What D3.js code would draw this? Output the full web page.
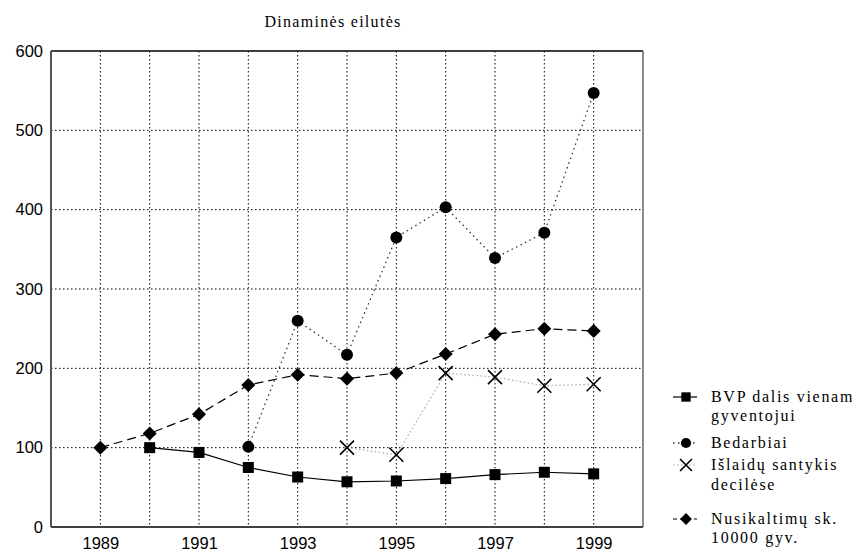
<!DOCTYPE html>
<html><head><meta charset="utf-8">
<script src="https://cdn.jsdelivr.net/npm/d3@7"></script>
<style>body{margin:0;background:#fff}svg{display:block}</style>
</head><body>
<script>
const years = [1989,1990,1991,1992,1993,1994,1995,1996,1997,1998,1999];
const bvp = [null,100,94,75,63,57,58,61,66,69,67];
const bedarbiai = [null,null,null,101,260,217,365,403,339,371,547];
const islaidu = [null,null,null,null,null,100,91,194,189,178,180];
const nusikaltimu = [100,118,142,179,192,187,194,218,243,250,247];
const yTicks = [0,100,200,300,400,500,600];
const xTickYears = [1989,1991,1993,1995,1997,1999];
const title = "Dinaminės eilutės";
const legendLabels = [["BVP dalis vienam","gyventojui"],["Bedarbiai"],["Išlaidų santykis","decilėse"],["Nusikaltimų sk.","10000 gyv."]];

const W=856,H=556;
const svg=d3.select("body").append("svg").attr("width",W).attr("height",H);
const L=51,R=643,T=51,B=527;
const x=d3.scaleLinear().domain([1988,2000]).range([L,R]);
const y=d3.scaleLinear().domain([0,600]).range([B,T]);

// grid
const g=svg.append("g");
d3.range(1989,2000).forEach(yr=>{
  g.append("line").attr("x1",x(yr)).attr("x2",x(yr)).attr("y1",T).attr("y2",B)
   .attr("stroke","#000").attr("stroke-width",1).attr("stroke-dasharray","1.5,2.5");
});
yTicks.filter(v=>v>0&&v<600).forEach(v=>{
  g.append("line").attr("x1",L).attr("x2",R).attr("y1",y(v)).attr("y2",y(v))
   .attr("stroke","#000").attr("stroke-width",1).attr("stroke-dasharray","1.5,2.5");
});
// frame
svg.append("line").attr("x1",L).attr("x2",R).attr("y1",T).attr("y2",T).attr("stroke","#000").attr("stroke-width",1.5);
svg.append("line").attr("x1",L).attr("x2",R).attr("y1",B).attr("y2",B).attr("stroke","#000").attr("stroke-width",1.5);
svg.append("line").attr("x1",L).attr("x2",L).attr("y1",T).attr("y2",B).attr("stroke","#555").attr("stroke-width",2);
svg.append("line").attr("x1",R).attr("x2",R).attr("y1",T).attr("y2",B).attr("stroke","#666").attr("stroke-width",1.5);

// axes labels via d3 axes
const yAxis=d3.axisLeft(y).tickValues(yTicks).tickSize(0).tickPadding(8);
const ya=svg.append("g").attr("transform",`translate(${L},0)`).call(yAxis);
ya.select(".domain").remove();
ya.selectAll("text").attr("font-family","Liberation Sans, Arial, sans-serif").attr("font-size",16.5).attr("fill","#000");
const xAxis=d3.axisBottom(x).tickValues(xTickYears).tickFormat(d3.format("d")).tickSize(0).tickPadding(10);
const xa=svg.append("g").attr("transform",`translate(0,${B})`).call(xAxis);
xa.select(".domain").remove();
xa.selectAll("text").attr("font-family","Liberation Sans, Arial, sans-serif").attr("font-size",16.5).attr("fill","#000");

// title
svg.append("text").attr("x",333).attr("y",27).attr("text-anchor","middle")
  .attr("font-family","Liberation Serif, Times New Roman, serif").attr("font-size",16)
  .attr("letter-spacing",1.3).text(title);

function pts(arr){return years.map((yr,i)=>({yr,v:arr[i]})).filter(d=>d.v!=null);}
const line=d3.line().x(d=>x(d.yr)).y(d=>y(d.v));

const series=[
 {data:bvp,stroke:"#000",dash:null,w:1.2,marker:"square"},
 {data:bedarbiai,stroke:"#333",dash:"1.5,3.5",w:1.3,marker:"circle"},
 {data:islaidu,stroke:"#aaa",dash:"1.5,2.5",w:1.2,marker:"x"},
 {data:nusikaltimu,stroke:"#000",dash:"9,5",w:1.2,marker:"diamond"}
];
function marker(sel,type,cx,cy,s){
  if(type==="square") sel.append("rect").attr("x",cx-5.5*s).attr("y",cy-5.5*s).attr("width",11*s).attr("height",11*s).attr("fill","#000");
  else if(type==="circle") sel.append("circle").attr("cx",cx).attr("cy",cy).attr("r",6*s).attr("fill","#000");
  else if(type==="diamond") sel.append("path").attr("d",`M${cx},${cy-7*s}L${cx+7*s},${cy}L${cx},${cy+7*s}L${cx-7*s},${cy}Z`).attr("fill","#000");
  else if(type==="x"){const r=7*s;sel.append("path").attr("d",`M${cx-r},${cy-r}L${cx+r},${cy+r}M${cx-r},${cy+r}L${cx+r},${cy-r}`).attr("stroke","#000").attr("stroke-width",1.6).attr("fill","none");}
}
series.forEach(s=>{
  const p=pts(s.data);
  svg.append("path").attr("d",line(p)).attr("fill","none").attr("stroke",s.stroke)
    .attr("stroke-width",s.w).attr("stroke-dasharray",s.dash);
});
series.forEach(s=>{
  const gm=svg.append("g");
  pts(s.data).forEach(d=>marker(gm,s.marker,x(d.yr),y(d.v),1));
});

// legend
const legY=[[397,416],[443],[465,485],[519,538]];
const lx0=673,lx1=697,lmx=686,tx=711;
series.forEach((s,i)=>{
  const yy=legY[i][0];
  svg.append("line").attr("x1",lx0).attr("x2",lx1).attr("y1",yy).attr("y2",yy)
    .attr("stroke",s.stroke).attr("stroke-width",s.w).attr("stroke-dasharray",s.dash? (s.marker==="diamond"?"4,3":s.dash):null);
  marker(svg,s.marker,lmx,yy,0.85);
  legendLabels[i].forEach((t,j)=>{
    svg.append("text").attr("x",tx).attr("y",legY[i][j]+5)
      .attr("font-family","Liberation Serif, Times New Roman, serif").attr("font-size",16)
      .attr("letter-spacing",1.7).text(t);
  });
});
</script>
</body></html>
